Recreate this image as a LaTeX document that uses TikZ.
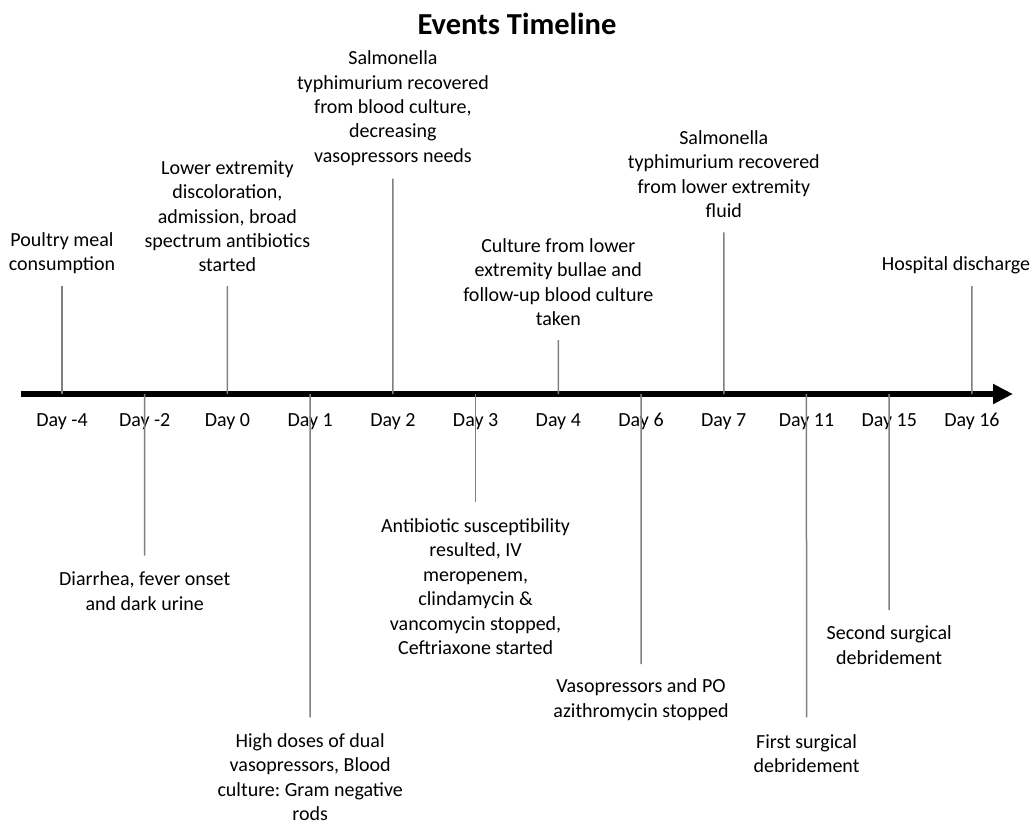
\documentclass[tikz,border=0pt]{standalone}
\usepackage{fontspec}
\setmainfont{Carlito}
\usetikzlibrary{arrows.meta}
\definecolor{stem}{RGB}{128,128,128}
\tikzset{
  lbl/.style={align=center, inner sep=0pt, font=\fontsize{20}{24.4}\selectfont\frenchspacing},
  daylbl/.style={inner sep=0pt, anchor=base, font=\fontsize{20}{24.4}\selectfont},
  stemline/.style={draw=stem, line width=1.5pt},
  axisline/.style={line width=6.5pt, -{Triangle[length=20pt,width=19pt]}}
}
\begin{document}
\begin{tikzpicture}[x=1pt,y=-1pt]
\useasboundingbox (0,0) rectangle (1033,822);
% title
\node[inner sep=0pt, anchor=base, font=\fontsize{30.5}{36}\selectfont\bfseries] (title) at (517,34.3) {Events Timeline};
% axis
\coordinate (axL) at (20.7,394);
\coordinate (axR) at (1013,394);
\draw[axisline] (axL) -- (axR);
% tick coordinates on axis
\foreach \i/\d in {0/-4,1/-2,2/0,3/1,4/2,5/3,6/4,7/6,8/7,9/11,10/15,11/16}{
  \coordinate (t\i) at ({62+82.72*\i},394);
  \node[daylbl] (day\i) at ({62+82.72*\i},426.7) {Day \d};
}
% upward events
\node[lbl] (e0) at (62,253) {Poultry meal\\consumption};
\coordinate (s0) at (62,286);
\node[lbl] (e2) at (227.4,216.3) {Lower extremity\\discoloration,\\admission, broad\\spectrum antibiotics\\started};
\coordinate (s2) at (227.4,286);
\node[lbl] (e4) at (392.9,108.2) {Salmonella\\typhimurium recovered\\from blood culture,\\decreasing\\vasopressors needs};
\coordinate (s4) at (392.9,178.7);
\node[lbl] (e6) at (558.3,282.3) {Culture from lower\\extremity bullae and\\follow-up blood culture\\taken};
\coordinate (s6) at (558.3,340);
\node[lbl] (e8) at (723.8,174.3) {Salmonella\\typhimurium recovered\\from lower extremity\\fluid};
\coordinate (s8) at (723.8,232.3);
\node[lbl] (e11) at (956,265.3) {Hospital discharge};
\coordinate (s11) at (971.9,286);
% downward events
\node[lbl] (e1) at (144.7,591.3) {Diarrhea, fever onset\\and dark urine};
\coordinate (s1) at (144.7,555.7);
\node[lbl] (e3) at (310.2,777) {High doses of dual\\vasopressors, Blood\\culture: Gram negative\\rods};
\coordinate (s3) at (310.2,717.3);
\node[lbl] (e5) at (475.6,586.7) {Antibiotic susceptibility\\resulted, IV\\meropenem,\\clindamycin \&\\vancomycin stopped,\\Ceftriaxone started};
\coordinate (s5) at (475.6,501.7);
\node[lbl] (e7) at (641,699.5) {Vasopressors and PO\\azithromycin stopped};
\coordinate (s7) at (641,664);
\node[lbl] (e9) at (806.5,753.5) {First surgical\\debridement};
\coordinate (s9) at (806.5,717.3);
\node[lbl] (e10) at (889.2,645.3) {Second surgical\\debridement};
\coordinate (s10) at (889.2,610);
% stems
\foreach \i in {0,2,4,6,8,11}{ \draw[stemline] (t\i) -- (s\i); }
\foreach \i in {1,3,5,7,9,10}{ \draw[stemline] (t\i) -- (s\i); }
\end{tikzpicture}
\end{document}
